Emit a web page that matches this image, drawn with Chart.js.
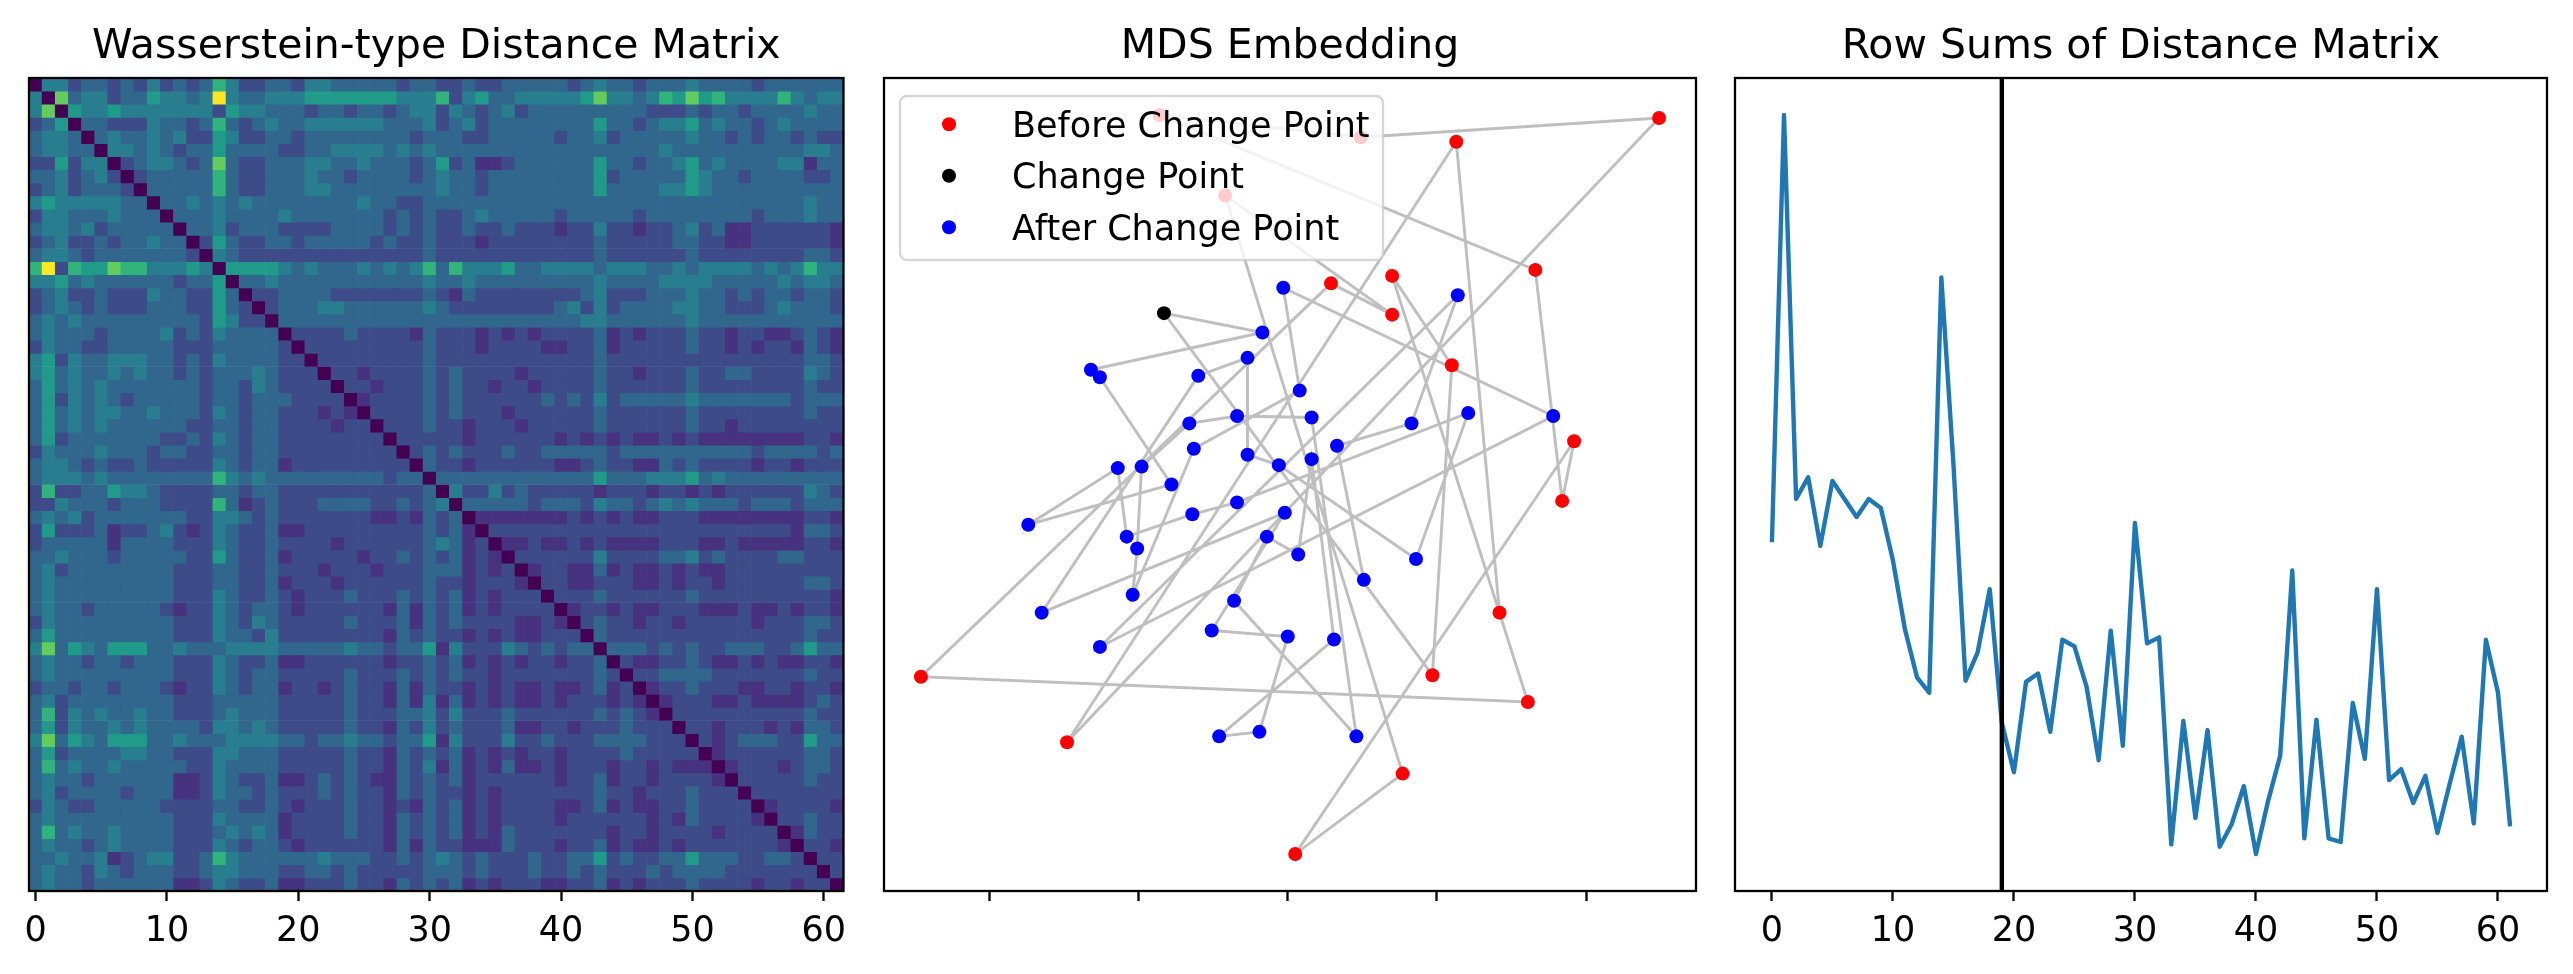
<!DOCTYPE html>
<html>
<head>
<meta charset="utf-8">
<title>Distance matrix, MDS embedding and row sums</title>
<script src="https://cdn.jsdelivr.net/npm/chart.js@4.4.1/dist/chart.umd.min.js"></script>
<style>
  html, body { margin: 0; padding: 0; background: #fff; }
  body { position: relative; width: 2573px; height: 974px; overflow: hidden; }
  .panel { position: absolute; top: 0; height: 974px; }
</style>
</head>
<body>
<div class="panel" style="left:0px;width:880px"><canvas id="heat-map"></canvas></div>
<div class="panel" style="left:860px;width:860px"><canvas id="mds-plot"></canvas></div>
<div class="panel" style="left:1700px;width:873px"><canvas id="row-sums"></canvas></div>
<script>
"use strict";
Chart.defaults.font.family = "'DejaVu Sans', sans-serif";
Chart.defaults.color = '#000';

// ---- data ----
const heatTitle = 'Wasserstein-type Distance Matrix';
const mdsTitle = 'MDS Embedding';
const sumsTitle = 'Row Sums of Distance Matrix';

const indexTicks = [0, 10, 20, 30, 40, 50, 60];
const mdsTicks = [-2, -1, 0, 1, 2];
const changePoint = 19;

// colour level of each cell (0 = darkest, 9 = brightest), upper triangle, one row per line
// columns grouped by ten; '.' = below the diagonal (mirrored)
const distRows = [
  "0442332324 2323642233 2443333323 3223223333 3234332333 4333323333 33",
  ".073442335 4434943344 4555555544 4624533444 4457443465 7564444643 44",
  "..05445444 4444254433 3233233234 4243234233 3333333222 3233233334 33",
  "...0332224 3323632343 3444444333 4234233333 3335332344 5343323433 33",
  "....034334 3422542233 2333333332 3332233333 2334233333 4332323323 22",
  ".....04434 3233533332 2334444343 4333333333 3333333343 3333333334 43",
  "......0234 4323732233 3443343332 3523112333 3335332334 5343333441 33",
  ".......023 3333632233 3433233332 3433233333 3335233333 5433233332 23",
  "........03 3333632233 3443333333 3433233333 3335333344 5433333333 33",
  ".........0 3343434333 3333343322 3333333333 3333333333 3333333334 33",
  ".......... 0333433334 3333333232 3223433333 2333332333 3333323334 33",
  ".......... .033423332 2223333232 3223223222 1224221223 4231122222 21",
  ".......... ..02532233 2333332322 3222122222 2223222223 3221122222 21",
  ".......... ...0432222 2222222222 3222222222 2223222222 3222222223 32",
  ".......... ....055554 3433343434 6364445334 4443444334 3444434346 44",
  ".......... .....03343 3333333333 4334333333 3334333344 4433333434 43",
  ".......... ......0223 3332222222 3213222222 2234222333 4332323323 32",
  ".......... .......023 3344333333 4322222222 3424233334 4332223433 32",
  ".......... ........03 3333333333 3333333333 3344333333 4333333333 33",
  ".......... .........0 2222322221 3222121212 2223121222 3221221123 21",
  ".......... .......... 0222222222 3222122221 1223122222 3221212213 21",
  ".......... .......... .022222222 3222222222 2223222222 2222222223 32",
  ".......... .......... ..02212222 3232222122 2223221222 3223322224 32",
  ".......... .......... ...0221222 3232212212 2223222222 3222222223 22",
  ".......... .......... ....012222 3232222223 2324233333 4333333323 33",
  ".......... .......... .....02222 3232221222 2223222222 3222222223 22",
  ".......... .......... ......0222 3221222122 2223222222 3221222222 22",
  ".......... .......... .......022 2221222222 1212121121 2111111112 21",
  ".......... .......... ........02 3232223223 3333233333 3333323333 23",
  ".......... .......... .........0 3221222222 1123221132 3222212212 22",
  ".......... .......... .......... 0333333333 3335333444 5343333333 33",
  ".......... .......... .......... .042242322 2221222122 1212222224 32",
  ".......... .......... .......... ..03333323 3324332343 4333233323 33",
  ".......... .......... .......... ...0111111 1212121122 2111111112 21",
  ".......... .......... .......... ....022222 2222222222 2222222213 32",
  ".......... .......... .......... .....01121 1212111122 2112111112 21",
  ".......... .......... .......... ......0222 2224222233 4232222332 22",
  ".......... .......... .......... .......012 2113121121 2112222222 22",
  ".......... .......... .......... ........02 2112221121 2212222223 32",
  ".......... .......... .......... .........0 2223222222 3222222222 21",
  ".......... .......... .......... .......... 0122121122 2111211212 21",
  ".......... .......... .......... .......... .023221221 2222212223 32",
  ".......... .......... .......... .......... ..03222222 2222222223 22",
  ".......... .......... .......... .......... ...0333232 3223332235 33",
  ".......... .......... .......... .......... ....021122 3211212112 21",
  ".......... .......... .......... .......... .....02233 3322222223 22",
  ".......... .......... .......... .......... ......0122 3222112212 21",
  ".......... .......... .......... .......... .......012 2211211112 32",
  ".......... .......... .......... .......... ........02 2222222223 22",
  ".......... .......... .......... .......... .........0 2212221213 32",
  ".......... .......... .......... .......... .......... 0212333225 33",
  ".......... .......... .......... .......... .......... .012222223 32",
  ".......... .......... .......... .......... .......... ..01222123 32",
  ".......... .......... .......... .......... .......... ...0222223 22",
  ".......... .......... .......... .......... .......... ....022222 22",
  ".......... .......... .......... .......... .......... .....01222 21",
  ".......... .......... .......... .......... .......... ......0223 22",
  ".......... .......... .......... .......... .......... .......013 22",
  ".......... .......... .......... .......... .......... ........02 21",
  ".......... .......... .......... .......... .......... .........0 22",
  ".......... .......... .......... .......... .......... .......... 02",
  ".......... .......... .......... .......... .......... .......... .0"
];

// MDS coordinates, in time order (0..61)
const mdsX = [1.42, 1.13, -1.48, 2.49, 0.49, -0.86, 1.66, 1.84, 1.92, 0.05,
              0.77, -0.42, 0.70, 0.29, -2.46, 1.61, 0.70, 1.10, 0.97, -0.83,
              -0.17, -1.32, -1.26, -0.78, -1.74, -1.14, -1.08, -0.64, -0.34, 1.21,
              0.86, -0.06, -0.27, -0.27, -0.60, -1.65, -0.02, -0.51, 0.00, -0.19,
              -0.46, 0.31, 0.16, 0.07, -0.14, -0.36, 0.46, 0.16, -0.34, -0.66,
              -0.98, -1.01, -1.04, -0.63, 0.08, -0.03, 1.78, -1.26, 1.14, 0.83,
              0.33, 0.51];
const mdsY = [-0.86, 2.30, -1.73, 2.46, 2.33, 2.48, 1.44, -0.11, 0.29, -2.48,
              -1.94, 1.94, 1.14, 1.35, -1.29, -1.46, 1.40, 0.80, -1.28, 1.15,
              1.02, 0.77, 0.72, 0.00, -0.27, 0.11, -0.35, -0.20, -0.12, 0.48,
              -0.50, 0.13, 0.20, 0.85, 0.73, -0.86, -0.19, -0.98, -1.02, -1.66,
              -1.69, -1.04, 0.17, -0.47, -0.35, -0.78, -1.69, 0.45, 0.46, 0.41,
              0.12, -0.43, -0.74, 0.24, 0.63, 1.32, 0.46, -1.09, 1.27, 0.41,
              0.26, -0.64];

const rowSums = [65.0, 136.0, 72.2, 75.8, 64.4, 75.2, 72.2, 69.2, 72.2, 70.7,
                 62.0, 50.5, 42.5, 40.0, 109.0, 78.0, 42.0, 46.7, 57.2, 35.0,
                 26.8, 41.8, 43.2, 33.5, 48.8, 47.7, 41.0, 28.8, 50.3, 31.2,
                 68.2, 48.2, 49.2, 14.8, 35.3, 19.2, 33.8, 14.4, 18.2, 24.5,
                 13.2, 22.0, 29.5, 60.3, 15.8, 35.5, 15.8, 15.2, 38.3, 29.0,
                 57.2, 25.5, 27.3, 21.7, 26.2, 16.7, 24.8, 32.7, 18.3, 48.8,
                 40.0, 17.8];

// ---- helpers ----
const viridisStops = ['#440154', '#48186a', '#472d7b', '#424086', '#3b528b', '#33638d',
  '#2c728e', '#26828e', '#21918c', '#1fa088', '#28ae80', '#3fbc73', '#5ec962',
  '#84d44b', '#addc30', '#d8e219', '#fde725'];
// position on the colour bar for each level
const levelShade = [0, 0.14, 0.23, 0.33, 0.42, 0.54, 0.65, 0.76, 0.88, 1];

function hexRgb(h) {
  return [1, 3, 5].map(k => parseInt(h.substr(k, 2), 16));
}

function viridis(t) {
  t = Math.min(1, Math.max(0, t));
  const p = t * (viridisStops.length - 1);
  const i = Math.min(Math.floor(p), viridisStops.length - 2);
  const f = p - i;
  const a = hexRgb(viridisStops[i]), b = hexRgb(viridisStops[i + 1]);
  const c = a.map((v, k) => Math.round(v + (b[k] - v) * f));
  return 'rgb(' + c.join(',') + ')';
}

function padRange(vals, frac) {
  const lo = Math.min(...vals), hi = Math.max(...vals);
  const p = (hi - lo) * frac;
  return [lo - p, hi + p];
}

function bottomAxis(min, max, ticks, showLabels) {
  return {
    type: 'linear', min: min, max: max, offset: false,
    afterBuildTicks: s => { s.ticks = ticks.map(v => ({ value: v })); },
    afterFit: s => { s.height = 83; },
    grid: { display: true, offset: false, drawOnChartArea: false, drawTicks: true,
            tickLength: 10, tickWidth: 2.3, tickColor: '#000' },
    border: { display: false },
    ticks: { autoSkip: false, maxRotation: 0, padding: 10, color: '#000',
             font: { size: 35 },
             callback: v => showLabels ? String(v) : '' }
  };
}

function drawLegend(chart) {
  const ctx = chart.ctx, a = chart.chartArea;
  const x0 = a.left + 16, y0 = a.top + 18, w = 483, h = 164, r = 7;
  ctx.save();
  ctx.beginPath();
  ctx.moveTo(x0 + r, y0);
  ctx.arcTo(x0 + w, y0, x0 + w, y0 + h, r);
  ctx.arcTo(x0 + w, y0 + h, x0, y0 + h, r);
  ctx.arcTo(x0, y0 + h, x0, y0, r);
  ctx.arcTo(x0, y0, x0 + w, y0, r);
  ctx.closePath();
  ctx.fillStyle = 'rgba(255,255,255,0.8)';
  ctx.fill();
  ctx.lineWidth = 2.3;
  ctx.strokeStyle = 'rgba(204,204,204,0.8)';
  ctx.stroke();
  const items = chart.data.datasets.filter(d => d.inLegend);
  items.forEach((d, k) => {
    const cy = a.top + 46.3 + k * 51.5;
    ctx.beginPath();
    ctx.arc(a.left + 65, cy, 7, 0, Math.PI * 2);
    ctx.fillStyle = d.pointBackgroundColor;
    ctx.fill();
    ctx.fillStyle = '#000';
    ctx.font = '35px "DejaVu Sans"';
    ctx.textAlign = 'left';
    ctx.textBaseline = 'alphabetic';
    ctx.fillText(d.label, a.left + 128, cy + 12.5);
  });
  ctx.restore();
}

// frame, title and (optionally) legend, drawn like matplotlib axes
const decor = {
  id: 'decor',
  afterDatasetsDraw(chart, args, opts) {
    const ctx = chart.ctx, a = chart.chartArea;
    ctx.save();
    ctx.strokeStyle = '#000';
    ctx.lineWidth = 2.3;
    ctx.strokeRect(a.left, a.top, a.right - a.left, a.bottom - a.top);
    ctx.restore();
    if (opts.legend) drawLegend(chart);
  },
  afterDraw(chart, args, opts) {
    const ctx = chart.ctx, a = chart.chartArea;
    ctx.save();
    ctx.font = '41px "DejaVu Sans"';
    ctx.fillStyle = '#000';
    ctx.textAlign = 'center';
    ctx.textBaseline = 'alphabetic';
    ctx.fillText(opts.title, (a.left + a.right) / 2, 58);
    ctx.restore();
  }
};

const common = {
  responsive: true,
  maintainAspectRatio: false,
  animation: false,
  events: [],
  plugins: { legend: { display: false }, tooltip: { enabled: false } }
};

// ---- heat map ----
const cells = distRows.map(r => r.replace(/ /g, ''));
const nCells = cells.length;
const cellIdx = cells.map((_, i) => i);
function level(i, j) {
  if (i === j) return 0;
  return +cells[Math.min(i, j)][Math.max(i, j)];
}

const heatSets = cellIdx.map(r => ({
  data: cellIdx.map(c => ({ x: c, y: 1 })),
  backgroundColor: cellIdx.map(c => viridis(levelShade[level(r, c)])),
  borderWidth: 0,
  barPercentage: 1,
  categoryPercentage: 1
}));

const heatX = bottomAxis(-0.5, nCells - 0.5, indexTicks, true);
heatX.stacked = true;

new Chart(document.getElementById('heat-map'), {
  type: 'bar',
  data: { datasets: heatSets },
  options: Object.assign({}, common, {
    layout: { padding: { left: 29, right: 36.5, top: 78, bottom: 0 } },
    scales: {
      x: heatX,
      y: { type: 'linear', stacked: true, reverse: true, min: 0, max: nCells, display: false }
    },
    plugins: Object.assign({}, common.plugins, { decor: { title: heatTitle } })
  }),
  plugins: [decor]
});

// ---- MDS embedding ----
const ptIdx = mdsX.map((_, i) => i);
const pt = i => ({ x: mdsX[i], y: mdsY[i] });
const [mxMin, mxMax] = padRange(mdsX, 0.05);
const [myMin, myMax] = padRange(mdsY, 0.05);

new Chart(document.getElementById('mds-plot'), {
  type: 'scatter',
  data: {
    datasets: [
      { label: 'Before Change Point', inLegend: true, data: ptIdx.filter(i => i < changePoint).map(pt),
        pointBackgroundColor: '#ff0000', pointBorderWidth: 0, pointRadius: 7, order: 1 },
      { label: 'Change Point', inLegend: true, data: [pt(changePoint)],
        pointBackgroundColor: '#000000', pointBorderWidth: 0, pointRadius: 7, order: 1 },
      { label: 'After Change Point', inLegend: true, data: ptIdx.filter(i => i > changePoint).map(pt),
        pointBackgroundColor: '#0000ff', pointBorderWidth: 0, pointRadius: 7, order: 1 },
      { label: 'path', data: ptIdx.map(pt), showLine: true, pointRadius: 0,
        borderColor: 'rgba(128,128,128,0.5)', borderWidth: 2.9, tension: 0, order: 2 }
    ]
  },
  options: Object.assign({}, common, {
    layout: { padding: { left: 24, right: 24, top: 78, bottom: 0 } },
    scales: {
      x: bottomAxis(mxMin, mxMax, mdsTicks, false),
      y: { type: 'linear', min: myMin, max: myMax, display: false }
    },
    plugins: Object.assign({}, common.plugins, { decor: { title: mdsTitle, legend: true } })
  }),
  plugins: [decor]
});

// ---- row sums ----
const sumIdx = rowSums.map((_, i) => i);
const [sxMin, sxMax] = padRange(sumIdx, 0.05);
const [syMin, syMax] = padRange(rowSums, 0.05);

new Chart(document.getElementById('row-sums'), {
  type: 'scatter',
  data: {
    datasets: [
      { data: sumIdx.map(i => ({ x: i, y: rowSums[i] })), showLine: true, pointRadius: 0,
        borderColor: '#1f77b4', borderWidth: 4.4, borderJoinStyle: 'round', tension: 0, order: 1 },
      { data: [{ x: changePoint, y: syMin }, { x: changePoint, y: syMax }], showLine: true,
        pointRadius: 0, borderColor: '#000000', borderWidth: 4.4, order: 0 }
    ]
  },
  options: Object.assign({}, common, {
    layout: { padding: { left: 35, right: 26, top: 78, bottom: 0 } },
    scales: {
      x: bottomAxis(sxMin, sxMax, indexTicks, true),
      y: { type: 'linear', min: syMin, max: syMax, display: false }
    },
    plugins: Object.assign({}, common.plugins, { decor: { title: sumsTitle } })
  }),
  plugins: [decor]
});
</script>
</body>
</html>
